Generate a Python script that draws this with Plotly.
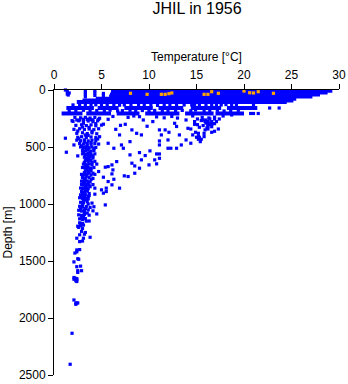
import plotly.graph_objects as go

# continuous stretches of casts: depth, coldest and warmest reading
band_depth = [6, 22, 40, 58, 76, 92, 106, 158, 158, 158, 158, 158, 158, 206, 206, 206, 206, 206, 206]
band_tmin = [6.0, 6.0, 5.9, 5.8, 4.4, 3.0, 2.4, 1.3, 4.6, 7.4, 11.0, 14.4, 18.2, 0.8, 3.4, 6.6, 9.6, 13.8, 17.0]
band_tmax = [29.3, 28.8, 28.0, 27.2, 25.5, 25.2, 24.5, 4.2, 6.8, 10.4, 13.6, 17.6, 21.4, 3.0, 6.0, 9.0, 13.2, 16.8, 20.0]

# readings just under the band
upper_temp = [1.2, 1.4, 1.6, 1.4, 1.5, 3.3, 3.3, 3.3, 3.3, 4.3, 4.3, 4.3, 5.2, 5.2,
              22.7, 23.7, 20.7, 21.0, 21.5,
              2.0, 2.7, 3.3, 3.9, 4.4, 5.0, 5.6, 6.3, 6.9, 7.4, 8.1, 8.9, 9.5, 10.2, 10.9, 11.6,
              12.2, 12.9, 13.7, 14.5, 14.8, 15.3, 16.0, 16.6, 17.1, 17.6, 18.1, 18.7, 19.2, 21.0,
              1.6, 2.3, 3.1, 3.8, 4.5, 5.3, 5.9, 6.7, 7.2, 8.0, 8.6, 9.3, 10.0, 10.6, 11.4, 12.0,
              12.8, 13.5, 14.4, 14.9, 15.8, 16.4, 17.2, 17.9, 18.6, 19.4]
upper_depth = [0, 14, 26, 36, 44, 8, 24, 42, 60, 6, 26, 48, 30, 50,
               158, 158, 206, 206, 206,
               131, 134, 128, 133, 130, 131, 136, 129, 133, 131, 128, 134, 131, 130, 135, 131,
               129, 133, 131, 131, 128, 134, 131, 130, 133, 131, 128, 132, 131, 131,
               181, 184, 178, 183, 180, 182, 177, 184, 181, 178, 183, 180, 184, 179, 182, 180,
               184, 179, 182, 176, 183, 180, 178, 184, 181, 178]

# warm water in the upper few hundred metres
warm_temp = [1.9, 2.4, 2.7, 3.1, 3.6, 4.1, 4.7, 5.7, 7.5, 8.2, 6.9, 8.7, 9.2, 11.1, 11.7, 12.1,
             11.3, 12.0, 12.7, 13.9, 14.1, 13.2, 1.2, 9.0, 9.4, 10.4, 14.6, 17.8, 18.7,
             15.1, 15.7, 16.0, 16.4, 16.9, 17.4, 14.8, 15.9, 16.2, 16.6, 17.1,
             14.8, 15.1, 16.2, 16.6, 16.9, 15.3, 16.2, 16.6, 17.3, 16.2, 14.4,
             14.9, 15.2, 16.6, 16.9, 15.8, 14.6, 15.2, 15.8, 15.0, 15.3, 15.2, 15.5, 15.4, 14.4,
             6.2, 7.8, 8.4, 10.8, 11.6, 12.4, 13.0, 7.0, 9.8, 12.9, 6.5, 5.2,
             15.6, 16.3, 16.9, 15.5, 16.0, 16.5, 15.7, 16.1, 15.9, 16.4]
warm_depth = [269, 263, 263, 257, 257, 263, 257, 257, 301, 350, 394, 380, 394, 350, 350, 371,
              394, 438, 292, 263, 336, 394, 423, 234, 263, 277, 228, 228, 219,
              254, 263, 263, 254, 254, 254, 277, 277, 277, 277, 277,
              301, 304, 301, 301, 295, 327, 322, 322, 342, 342, 342,
              371, 380, 371, 362, 380, 394, 408, 409, 415, 415, 432, 432, 453, 467,
              232, 240, 228, 236, 244, 232, 246, 310, 318, 320, 345, 300,
              240, 245, 238, 268, 290, 288, 312, 332, 350, 305]

# scattered readings between 450 and 950 m, off the cold column
mid_temp = [2.1, 1.3, 2.5, 5.7, 6.3, 7.3, 8.0, 7.1, 11.1, 11.1, 12.0, 12.3, 12.9, 13.4, 13.9,
            10.1, 9.0, 8.0, 9.6, 10.8, 11.1, 10.6, 11.1, 9.2, 8.2, 9.0, 10.0, 10.8, 8.5, 8.5,
            5.7, 6.6, 6.1, 5.4, 6.2, 6.1, 7.4, 7.8, 5.2, 6.3, 5.7, 4.7, 4.1, 6.9, 5.5, 6.1,
            5.0, 4.3, 3.6, 4.3, 5.2, 5.5]
mid_depth = [482, 546, 578, 467, 511, 511, 453, 482, 482, 447, 511, 511, 511, 482, 438,
             534, 549, 569, 575, 561, 561, 613, 599, 613, 642, 686, 657, 648, 666, 730,
             672, 628, 657, 677, 701, 736, 753, 759, 765, 783, 803, 715, 730, 861, 861, 832,
             876, 861, 934, 914, 905, 891]

# the cold column from the thermocline down
column_temp = [2.2, 2.8, 3.3, 3.8, 4.3, 4.8, 2.0, 2.6, 3.1, 3.6, 4.1, 4.6,
               2.3, 2.9, 3.4, 3.9, 4.4, 5.0, 2.1, 2.7, 3.2, 3.7, 4.2, 4.7,
               2.4, 3.0, 3.5, 4.0, 4.5, 2.5, 2.9, 3.4, 3.9, 4.4, 4.8,
               2.4, 2.8, 3.2, 3.6, 4.0, 4.4, 2.7, 3.1, 3.5, 3.9, 4.3, 4.7,
               2.8, 3.1, 3.4, 3.7, 4.0, 4.4, 3.0, 3.3, 3.6, 3.9, 4.2,
               3.0, 3.3, 3.6, 3.9, 4.3, 3.2, 3.5, 3.8, 4.1, 3.3, 3.6, 3.9, 4.3,
               3.1, 3.4, 3.7, 4.0, 4.5, 3.0, 3.3, 3.6, 3.9, 4.2, 3.3, 3.6, 3.9,
               2.9, 3.2, 3.5, 3.9, 4.3, 3.0, 3.3, 3.7, 4.1, 2.9, 3.2, 3.5, 3.8,
               2.9, 3.1, 3.4, 3.7, 4.1, 2.8, 3.0, 3.3, 3.6, 2.9, 3.2, 3.5, 2.8, 3.0, 3.3, 3.7]
column_depth = [240, 244, 240, 246, 240, 248, 275, 270, 276, 272, 278, 270,
                310, 305, 312, 306, 314, 308, 345, 340, 346, 342, 348, 340,
                380, 375, 382, 376, 384, 415, 410, 416, 412, 418, 410,
                440, 445, 438, 446, 440, 444, 470, 475, 468, 476, 470, 474,
                500, 505, 498, 506, 500, 504, 530, 535, 528, 536, 530,
                560, 565, 558, 566, 560, 590, 595, 588, 596, 620, 625, 618, 626,
                650, 655, 648, 656, 650, 680, 685, 678, 686, 680, 710, 715, 708,
                740, 745, 738, 746, 740, 770, 775, 768, 776, 800, 805, 798, 806,
                830, 835, 828, 836, 830, 860, 865, 858, 866, 890, 895, 888, 920, 925, 918, 926]

# extra readings filling the column between the regular levels
filler_temp = [3.5, 3.9, 3.1, 4.4, 3.0, 3.7, 2.5, 4.0, 3.3, 3.6, 2.6, 4.6, 3.2, 3.9, 3.5, 2.9, 4.2, 3.4,
               3.8, 3.1, 3.6, 4.1, 3.4, 3.7, 3.2, 4.0, 3.5, 3.3, 3.8, 3.5, 3.2, 3.7, 3.0, 3.4, 3.9, 3.2,
               3.6, 3.1, 3.4, 3.8, 3.3, 3.5, 3.0, 3.7, 3.2, 2.9, 3.4, 3.1, 3.6, 3.0, 3.3, 2.8, 3.2, 3.5,
               2.9, 3.1, 3.4, 2.8, 3.1, 3.3]
filler_depth = [258, 262, 292, 295, 325, 328, 360, 362, 395, 398, 428, 430, 458, 460, 487, 490, 515, 518,
                545, 548, 575, 578, 605, 608, 635, 638, 665, 668, 695, 698, 725, 728, 755, 758, 785, 788,
                815, 818, 845, 848, 875, 878, 905, 908, 935, 938, 965, 968, 1000, 1005, 1040, 1044, 1075, 1080,
                1110, 1115, 1150, 1180, 1185, 1250]

# deep end of the column
deep_temp = [2.7, 3.0, 3.3, 3.6, 2.8, 3.1, 3.5, 4.0, 2.7, 3.0, 3.4, 3.8, 4.2, 5.4, 2.6, 2.9, 3.2, 3.6, 4.1,
             2.6, 2.9, 3.2, 3.7, 4.5, 2.7, 3.0, 3.3, 3.7, 2.7, 3.0, 2.5, 2.8, 2.6, 3.0,
             2.7, 3.2, 2.4, 3.1, 3.8, 2.7, 3.0, 2.9, 2.4, 2.2, 2.7, 2.4, 2.1, 2.5, 2.6,
             2.4, 2.8, 2.5, 2.9, 2.5, 2.2, 2.4, 2.1, 2.4, 2.1, 2.3, 2.4, 1.9, 1.7]
deep_depth = [945, 950, 948, 955, 985, 990, 980, 992, 1020, 1028, 1022, 1030, 1024, 1008, 1055, 1062, 1058, 1052, 1060,
              1095, 1100, 1092, 1098, 1087, 1130, 1135, 1128, 1149, 1165, 1170, 1195, 1190, 1205, 1215,
              1270, 1265, 1300, 1300, 1292, 1330, 1325, 1240, 1403, 1430, 1400, 1420, 1508, 1480, 1485,
              1550, 1545, 1585, 1585, 1600, 1650, 1655, 1645, 1665, 1660, 1673, 1680, 2134, 2406]
bottom_temp = [2.1, 2.3, 2.4, 2.5, 2.3]
bottom_depth = [1842, 1870, 1868, 1868, 1880]

# the few casts flagged separately
flag_temp = [8.05, 9.8, 11.3, 11.7, 12.1, 12.4, 15.8, 16.2, 16.6, 17.3, 20.0, 20.6, 21.0, 21.5, 23.1]
flag_depth = [29, 38, 38, 38, 32, 26, 38, 38, 15, 29, 9, 24, 26, 15, 29]

BLUE = '#0000ff'
ORANGE = '#ffa500'

band_x = []
band_y = []
for d, t0, t1 in zip(band_depth, band_tmin, band_tmax):
    band_x += [t0, t1, None]
    band_y += [d, d, None]

all_temp = upper_temp + warm_temp + mid_temp + column_temp + filler_temp + deep_temp + bottom_temp
all_depth = upper_depth + warm_depth + mid_depth + column_depth + filler_depth + deep_depth + bottom_depth

fig = go.Figure()
fig.add_trace(go.Scatter(x=band_x, y=band_y, mode='lines', line=dict(color=BLUE, width=4), cliponaxis=False))
fig.add_trace(go.Scatter(x=all_temp, y=all_depth, mode='markers', cliponaxis=False,
                         marker=dict(color=BLUE, size=3.2, symbol='square', line=dict(width=0))))
fig.add_trace(go.Scatter(x=flag_temp, y=flag_depth, mode='markers', cliponaxis=False,
                         marker=dict(color=ORANGE, size=3.2, symbol='square', line=dict(width=0))))

axis_font = dict(family='Liberation Sans', size=12, color='black')
fig.update_layout(
    width=348, height=384, showlegend=False,
    margin=dict(l=54, r=9, t=90, b=9),
    paper_bgcolor='white', plot_bgcolor='white',
    font=axis_font,
    title=dict(text='JHIL in 1956', x=197 / 348, xanchor='center', y=0.979, yanchor='middle',
               font=dict(family='Liberation Sans', size=16, color='black')),
)
fig.update_xaxes(side='top', range=[0, 30], tickvals=[0, 5, 10, 15, 20, 25, 30], showgrid=False, zeroline=False,
                 showline=True, linecolor='black', linewidth=1, ticks='outside', ticklen=5, tickcolor='black',
                 automargin=False,
                 title=dict(text='Temperature [°C]', standoff=4, font=axis_font), tickfont=axis_font)
fig.update_yaxes(range=[2500, 0], tickvals=[0, 500, 1000, 1500, 2000, 2500], showgrid=False, zeroline=False,
                 showline=True, linecolor='black', linewidth=1, ticks='outside', ticklen=5, tickcolor='black',
                 automargin=False,
                 title=dict(text='Depth [m]', standoff=3, font=axis_font), tickfont=axis_font)

# the page's default body margin would shift the plot off the window
fig.write_html("out.html", post_script="document.body.style.margin='0';", config=dict(displayModeBar=False))
